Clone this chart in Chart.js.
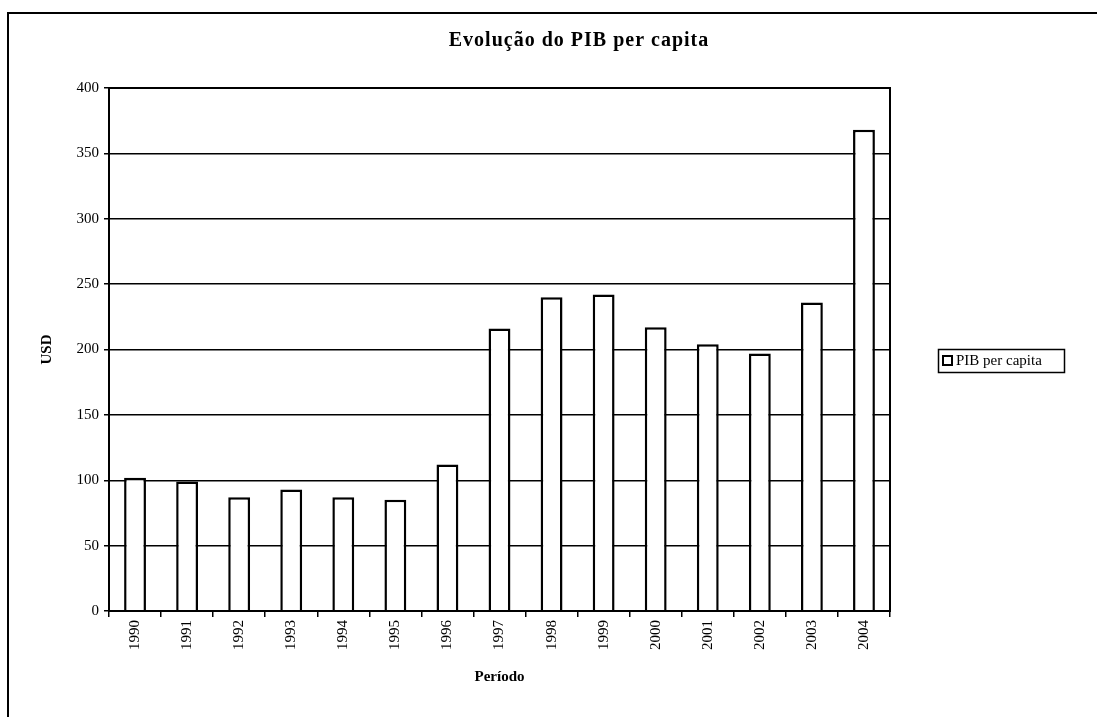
<!DOCTYPE html>
<html>
<head>
<meta charset="utf-8">
<script src="https://cdn.jsdelivr.net/npm/chart.js@4/dist/chart.umd.min.js"></script>
<style>
  html, body { margin: 0; padding: 0; background: #fff; }
  #wrap { width: 1097px; height: 717px; }
</style>
</head>
<body>
<div id="wrap"><canvas id="grafico"></canvas></div>
<script>
// dados
var anos = ['1990', '1991', '1992', '1993', '1994', '1995', '1996', '1997',
            '1998', '1999', '2000', '2001', '2002', '2003', '2004'];
var pibPerCapita = [102, 99, 87, 93, 87, 85, 112, 216, 240, 242, 217, 204, 197, 236, 368];
var nomeSerie = 'PIB per capita';
var titulo = 'Evolução do PIB per capita';

var fonte = 'Liberation Serif, Times New Roman, serif';

// moldura, borda da área de plotagem, título e legenda (estilo Excel)
var extras = {
    id: 'extras',
    afterDraw: function(chart) {
        var c = chart.ctx;
        var a = chart.chartArea;
        c.save();
        c.strokeStyle = '#000';
        c.lineWidth = 2;
        c.beginPath();
        c.moveTo(8, 717);
        c.lineTo(8, 13);
        c.lineTo(1097, 13);
        c.stroke();

        c.lineWidth = 2;
        c.strokeRect(a.left, a.top, a.right - a.left, a.bottom - a.top);

        c.fillStyle = '#000';
        c.font = 'bold 20px ' + fonte;
        c.letterSpacing = '1px';
        c.textAlign = 'center';
        c.textBaseline = 'middle';
        c.fillText(titulo, 579, 41);
        c.letterSpacing = '0px';

        // legenda
        c.lineWidth = 1.5;
        c.strokeRect(938.5, 349.5, 126, 23);
        c.fillStyle = '#fff';
        c.lineWidth = 2;
        c.fillRect(943, 356, 9, 9);
        c.strokeRect(943, 356, 9, 9);
        c.fillStyle = '#000';
        c.font = '15px ' + fonte;
        c.textAlign = 'left';
        c.fillText(chart.data.datasets[0].label, 956, 361);
        c.restore();
    }
};

var ctx = document.getElementById('grafico').getContext('2d');
var grafico = new Chart(ctx, {
    type: 'bar',
    data: {
        labels: anos,
        datasets: [{
            label: nomeSerie,
            data: pibPerCapita,
            backgroundColor: '#fff',
            borderColor: '#000',
            borderWidth: 2.5,
            categoryPercentage: 1,
            barPercentage: 0.42
        }]
    },
    options: {
        responsive: true,
        maintainAspectRatio: false,
        animation: false,
        layout: {
            padding: { top: 88, right: 207, bottom: 0, left: 8 }
        },
        plugins: {
            legend: { display: false },
            title: { display: false },
            tooltip: { enabled: false }
        },
        scales: {
            x: {
                offset: true,
                afterFit: function(s) { s.height = 106; },
                grid: {
                    offset: true,
                    drawOnChartArea: false,
                    drawTicks: true,
                    tickLength: 6,
                    lineWidth: 1.5,
                    color: '#000'
                },
                border: { color: '#000', width: 2 },
                ticks: {
                    color: '#000',
                    minRotation: 90,
                    maxRotation: 90,
                    padding: 3,
                    font: { family: fonte, size: 15 }
                },
                title: {
                    display: true,
                    text: 'Período',
                    color: '#000',
                    padding: { top: 0, bottom: 31 },
                    font: { family: fonte, size: 15, weight: 'bold' }
                }
            },
            y: {
                min: 0,
                max: 400,
                afterFit: function(s) { s.width = 101; },
                grid: {
                    color: '#000',
                    lineWidth: 1.5,
                    drawTicks: true,
                    tickLength: 5
                },
                border: { color: '#000', width: 2 },
                ticks: {
                    stepSize: 50,
                    color: '#000',
                    padding: 5,
                    font: { family: fonte, size: 15 }
                },
                title: {
                    display: true,
                    text: 'USD',
                    color: '#000',
                    padding: { top: 30, bottom: 0 },
                    font: { family: fonte, size: 15, weight: 'bold' }
                }
            }
        }
    },
    plugins: [extras]
});
</script>
</body>
</html>
